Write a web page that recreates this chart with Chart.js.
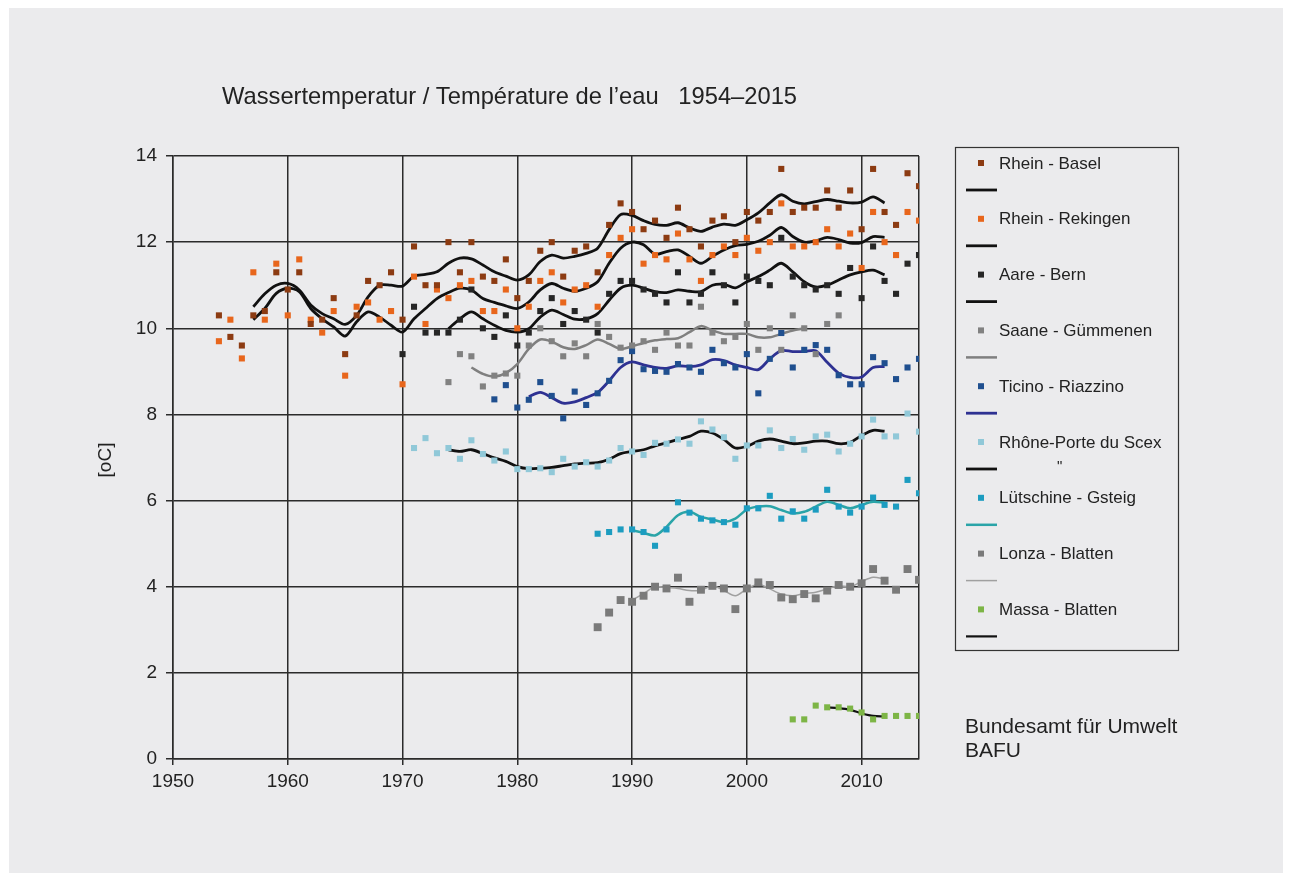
<!DOCTYPE html>
<html>
<head>
<meta charset="utf-8">
<script src="https://cdn.jsdelivr.net/npm/chart.js@4.4.1/dist/chart.umd.min.js"></script>
<style>
  html, body { margin: 0; padding: 0; background: #fff; }
  canvas { display: block; }
</style>
</head>
<body>
<canvas id="tempChart" width="1291" height="881"></canvas>
<script>
// Achsen
const yearTicks = [1950, 1960, 1970, 1980, 1990, 2000, 2010];
const lastYear = 2015;

// Jahresmittel (Punkte), ab Startjahr fortlaufend
const baselStart = 1954;
const baselTemp = [10.3, 9.8, 9.6, 10.3, 10.4, 11.3, 10.9, 11.3, 10.1, 10.2, 10.7, 9.4, 10.3, 11.1, 11.0, 11.3,
  10.2, 11.9, 11.0, 11.0, 12.0, 11.3, 12.0, 11.2, 11.1, 11.6, 10.7, 11.1, 11.8, 12.0, 11.2, 11.8, 11.9, 11.3,
  12.4, 12.9, 12.7, 12.3, 12.5, 12.1, 12.8, 12.3, 11.9, 12.5, 12.6, 12.0, 12.7, 12.5, 12.7, 13.7, 12.7, 12.8,
  12.8, 13.2, 12.8, 13.2, 12.3, 13.7, 12.7, 12.4, 13.6, 13.3];
const rekingenStart = 1954;
const rekingenTemp = [9.7, 10.2, 9.3, 11.3, 10.2, 11.5, 10.3, 11.6, 10.2, 9.9, 10.4, 8.9, 10.5, 10.6, 10.2, 10.4,
  8.7, 11.2, 10.1, 10.9, 10.7, 11.0, 11.1, 10.4, 10.4, 10.9, 10.0, 10.5, 11.1, 11.3, 10.6, 10.9, 11.0, 10.5,
  11.7, 12.1, 12.3, 11.5, 11.7, 11.6, 12.2, 11.6, 11.1, 11.7, 11.9, 11.7, 12.1, 11.8, 12.0, 12.9, 11.9, 11.9,
  12.0, 12.3, 11.9, 12.2, 11.4, 12.7, 12.0, 11.7, 12.7, 12.5];
const aareStart = 1970;
const aareTemp = [9.4, 10.5, 9.9, 9.9, 9.9, 10.2, 10.9, 10.0, 9.8, 10.3, 9.6, 9.9, 10.4, 10.7, 10.1, 10.4, 10.2,
  9.9, 10.8, 11.1, 11.1, 10.9, 10.8, 10.6, 11.3, 10.6, 10.8, 11.3, 11.0, 10.6, 11.2, 11.1, 11.0, 12.1, 11.2,
  11.0, 10.9, 11.0, 10.8, 11.4, 10.7, 11.9, 11.1, 10.8, 11.5, 11.7];
const saaneStart = 1974;
const saaneTemp = [8.75, 9.4, 9.35, 8.65, 8.9, 8.95, 8.9, 9.6, 10.0, 9.7, 9.35, 9.65, 9.35, 10.1, 9.8, 9.55,
  9.6, 9.7, 9.5, 9.9, 9.6, 9.6, 10.5, 9.9, 9.7, 9.8, 10.1, 9.5, 10.0, 9.5, 10.3, 10.0, 9.4, 10.1, 10.3];
const ticinoStart = 1978;
const ticinoTemp = [8.35, 8.68, 8.16, 8.34, 8.75, 8.43, 7.91, 8.53, 8.22, 8.49, 8.78, 9.26, 9.47, 9.05, 9.01,
  8.99, 9.17, 9.09, 8.99, 9.5, 9.19, 9.09, 9.4, 8.49, 9.29, 9.89, 9.09, 9.5, 9.61, 9.5, 8.91, 8.7, 8.7, 9.33,
  9.19, 8.82, 9.09, 9.29];
const rhoneStart = 1971;
const rhoneTemp = [7.22, 7.45, 7.1, 7.22, 6.97, 7.4, 7.08, 6.93, 7.14, 6.73, 6.73, 6.75, 6.66, 6.97, 6.79, 6.89,
  6.79, 6.93, 7.22, 7.14, 7.06, 7.34, 7.32, 7.42, 7.32, 7.84, 7.65, 7.47, 6.97, 7.28, 7.28, 7.63, 7.22, 7.43,
  7.18, 7.49, 7.53, 7.14, 7.32, 7.49, 7.88, 7.49, 7.49, 8.02, 7.6];
const luetschineStart = 1987;
const luetschineTemp = [5.23, 5.27, 5.33, 5.33, 5.27, 4.95, 5.33, 5.96, 5.72, 5.58, 5.54, 5.5, 5.44, 5.82, 5.82,
  6.11, 5.58, 5.75, 5.58, 5.79, 6.25, 5.86, 5.72, 5.86, 6.07, 5.9, 5.86, 6.48, 6.17];
const lonzaStart = 1987;
const lonzaTemp = [3.06, 3.4, 3.69, 3.65, 3.79, 4.0, 3.96, 4.21, 3.65, 3.93, 4.02, 3.96, 3.48, 3.96, 4.1, 4.04,
  3.75, 3.71, 3.83, 3.73, 3.91, 4.04, 4.0, 4.08, 4.41, 4.14, 3.93, 4.41, 4.16];
const massaStart = 2004;
const massaTemp = [0.92, 0.92, 1.24, 1.2, 1.2, 1.17, 1.08, 0.92, 1.0, 1.0, 1.0, 1.0];

// gleitende Mittel (Linien)
const baselTrendStart = 1957;
const baselTrend = [10.5, 10.8, 11.0, 11.04, 10.89, 10.54, 10.34, 10.22, 10.09, 10.3, 10.73, 11.0, 11.0, 10.98,
  11.21, 11.25, 11.31, 11.51, 11.63, 11.61, 11.47, 11.31, 11.21, 11.12, 11.24, 11.55, 11.7, 11.63, 11.67, 11.74,
  11.86, 12.29, 12.64, 12.62, 12.5, 12.41, 12.39, 12.45, 12.33, 12.25, 12.35, 12.42, 12.39, 12.52, 12.68, 12.91,
  13.1, 12.95, 12.89, 12.94, 12.99, 12.95, 12.91, 12.93, 13.05, 12.91];
const rekingenTrendStart = 1957;
const rekingenTrend = [10.2, 10.46, 10.81, 10.93, 10.85, 10.46, 10.22, 10.03, 9.82, 10.15, 10.38, 10.26, 10.07,
  9.91, 10.22, 10.46, 10.69, 10.83, 10.93, 10.89, 10.69, 10.6, 10.52, 10.46, 10.61, 10.89, 11.04, 10.93, 10.86,
  10.93, 11.08, 11.51, 11.86, 12.0, 11.94, 11.72, 11.78, 11.82, 11.67, 11.51, 11.67, 11.82, 11.92, 11.95, 12.02,
  12.16, 12.34, 12.13, 12.0, 12.03, 12.11, 12.06, 11.98, 11.99, 12.13, 12.11];
const aareTrendStart = 1974;
const aareTrend = [9.99, 10.22, 10.38, 10.22, 10.07, 9.95, 9.91, 9.99, 10.26, 10.42, 10.32, 10.21, 10.22, 10.34,
  10.65, 10.93, 11.0, 10.93, 10.85, 10.83, 10.89, 10.86, 10.85, 11.0, 11.02, 10.94, 11.08, 11.2, 11.35, 11.51,
  11.31, 11.08, 10.96, 11.0, 11.12, 11.24, 11.31, 11.35, 11.24];
const saaneTrendStart = 1976;
const saaneTrend = [9.09, 8.94, 8.88, 8.96, 9.17, 9.52, 9.74, 9.69, 9.56, 9.52, 9.61, 9.74, 9.64, 9.52, 9.58,
  9.66, 9.72, 9.75, 9.77, 9.91, 10.05, 9.95, 9.87, 9.87, 9.87, 9.79, 9.79, 9.87, 9.95, 10.0];
const ticinoTrendStart = 1981;
const ticinoTrend = [8.41, 8.51, 8.39, 8.26, 8.29, 8.39, 8.51, 8.78, 9.09, 9.22, 9.15, 9.09, 9.07, 9.13, 9.11,
  9.15, 9.27, 9.25, 9.15, 9.09, 9.04, 9.29, 9.48, 9.46, 9.46, 9.48, 9.21, 8.96, 8.86, 8.87, 9.09, 9.11];
const rhoneTrendStart = 1974;
const rhoneTrend = [7.18, 7.14, 7.18, 7.09, 6.99, 6.91, 6.79, 6.74, 6.75, 6.77, 6.81, 6.85, 6.87, 6.88, 6.96,
  7.09, 7.14, 7.18, 7.27, 7.34, 7.42, 7.49, 7.61, 7.57, 7.42, 7.22, 7.26, 7.38, 7.43, 7.38, 7.32, 7.34, 7.38,
  7.38, 7.32, 7.35, 7.51, 7.63, 7.61];
const luetschineTrendStart = 1990;
const luetschineTrend = [5.31, 5.25, 5.19, 5.39, 5.66, 5.74, 5.62, 5.56, 5.5, 5.58, 5.79, 5.86, 5.87, 5.78, 5.7,
  5.74, 5.86, 5.97, 5.9, 5.82, 5.9, 5.97, 5.95];
const lonzaTrendStart = 1990;
const lonzaTrend = [3.69, 3.84, 4.0, 3.98, 3.96, 3.91, 3.92, 4.02, 3.91, 3.79, 3.95, 4.06, 3.95, 3.83, 3.79, 3.84,
  3.87, 3.95, 4.02, 4.0, 4.12, 4.22, 4.18];
const massaTrendStart = 2007;
const massaTrend = [1.2, 1.18, 1.14, 1.06, 1.0, 0.99];

const FONT = "'Liberation Sans', Arial, sans-serif";
const GRID = "#2b2b2b";
const BG = "#ebebed";

function toPoints(start, values) {
  return values.map(function (v, i) { return { x: start + i, y: v }; });
}

const series = [
  { label: "Rhein - Basel", color: "#8c3b12", line: "#111111", lw: 2.8, start: baselStart, temp: baselTemp, tStart: baselTrendStart, trend: baselTrend },
  { label: "Rhein - Rekingen", color: "#e8661c", line: "#111111", lw: 2.8, start: rekingenStart, temp: rekingenTemp, tStart: rekingenTrendStart, trend: rekingenTrend },
  { label: "Aare - Bern", color: "#262626", line: "#111111", lw: 2.8, start: aareStart, temp: aareTemp, tStart: aareTrendStart, trend: aareTrend },
  { label: "Saane - Gümmenen", color: "#818181", line: "#7f7f7f", lw: 2.5, start: saaneStart, temp: saaneTemp, tStart: saaneTrendStart, trend: saaneTrend },
  { label: "Ticino - Riazzino", color: "#1f4f8f", line: "#2e3192", lw: 2.8, start: ticinoStart, temp: ticinoTemp, tStart: ticinoTrendStart, trend: ticinoTrend },
  { label: "Rhône-Porte du Scex", color: "#90c8d8", line: "#111111", lw: 2.8, start: rhoneStart, temp: rhoneTemp, tStart: rhoneTrendStart, trend: rhoneTrend },
  { label: "Lütschine - Gsteig", color: "#1c9cc0", line: "#2aa4a8", lw: 2.5, start: luetschineStart, temp: luetschineTemp, tStart: luetschineTrendStart, trend: luetschineTrend },
  { label: "Lonza - Blatten", color: "#7a7a7a", line: "#a0a0a0", lw: 1.5, start: lonzaStart, temp: lonzaTemp, tStart: lonzaTrendStart, trend: lonzaTrend, big: true },
  { label: "Massa - Blatten", color: "#7db546", line: "#111111", lw: 2.2, start: massaStart, temp: massaTemp, tStart: massaTrendStart, trend: massaTrend }
];

const datasets = [];
series.forEach(function (s) {
  datasets.push({
    label: s.label,
    data: toPoints(s.start, s.temp),
    showLine: false,
    pointStyle: "rect",
    pointRadius: s.big ? 5.6 : 4.3,
    pointBorderWidth: 0,
    backgroundColor: s.color,
    borderColor: s.color
  });
});
series.forEach(function (s) {
  datasets.push({
    label: s.label + " (Mittel)",
    data: toPoints(s.tStart, s.trend),
    showLine: true,
    pointRadius: 0,
    borderColor: s.line,
    borderWidth: s.lw,
    tension: 0.3,
    fill: false
  });
});

// Hintergrund, Titel, Legende und Texte
const decorPlugin = {
  id: "decor",
  beforeDraw: function (chart) {
    const ctx = chart.ctx;
    ctx.save();
    ctx.fillStyle = "#ffffff";
    ctx.fillRect(0, 0, chart.width, chart.height);
    ctx.fillStyle = BG;
    ctx.fillRect(9, 8, 1274, 865);
    ctx.restore();
  },
  afterDraw: function (chart) {
    const ctx = chart.ctx;
    ctx.save();
    ctx.fillStyle = "#222";
    ctx.textBaseline = "alphabetic";
    ctx.font = "24px " + FONT;
    ctx.fillText("Wassertemperatur / Température de l\u2019eau   1954\u20132015", 222, 104, 575);

    // y-Achsentitel
    ctx.save();
    ctx.translate(111, 460);
    ctx.rotate(-Math.PI / 2);
    ctx.textAlign = "center";
    ctx.font = "19px " + FONT;
    ctx.fillText("[oC]", 0, 0);
    ctx.restore();

    // Legende
    ctx.strokeStyle = "#333";
    ctx.lineWidth = 1.2;
    ctx.strokeRect(955.5, 147.5, 223, 503);
    ctx.font = "17px " + FONT;
    series.forEach(function (s, i) {
      const ty = 163 + 55.8 * i;
      const ly = ty + 27;
      ctx.fillStyle = s.color;
      ctx.fillRect(978, ty - 3, 6, 6);
      ctx.fillStyle = "#222";
      ctx.textBaseline = "middle";
      ctx.fillText(s.label, 999, ty + 1);
      ctx.strokeStyle = s.line;
      ctx.lineWidth = s.lw;
      ctx.beginPath();
      ctx.moveTo(966, ly);
      ctx.lineTo(997, ly);
      ctx.stroke();
    });
    ctx.fillStyle = "#222";
    ctx.font = "15px " + FONT;
    ctx.fillText("\"", 1057, 163 + 55.8 * 5 + 25);

    ctx.textBaseline = "alphabetic";
    ctx.font = "21px " + FONT;
    ctx.fillText("Bundesamt für Umwelt", 965, 733);
    ctx.fillText("BAFU", 965, 757);
    ctx.restore();
  }
};

const chart = new Chart(document.getElementById("tempChart").getContext("2d"), {
  type: "scatter",
  data: { datasets: datasets },
  options: {
    responsive: false,
    animation: false,
    events: [],
    layout: { padding: { top: 156, right: 372, left: 0, bottom: 0 } },
    plugins: {
      legend: { display: false },
      title: { display: false },
      tooltip: { enabled: false }
    },
    scales: {
      x: {
        type: "linear",
        min: yearTicks[0],
        max: lastYear,
        afterFit: function (scale) { scale.height = 122; },
        afterBuildTicks: function (scale) {
          scale.ticks = yearTicks.concat([lastYear]).map(function (v) { return { value: v }; });
        },
        ticks: {
          autoSkip: false,
          maxRotation: 0,
          padding: 5,
          color: "#222",
          font: { size: 19, family: FONT },
          callback: function (v) { return v === lastYear ? "" : String(v); }
        },
        grid: {
          color: GRID,
          lineWidth: 1.5,
          tickLength: 6,
          tickColor: function (c) { return c.tick && c.tick.value === lastYear ? "rgba(0,0,0,0)" : GRID; }
        },
        border: { color: GRID, width: 1.5 }
      },
      y: {
        min: 0,
        max: 14,
        afterFit: function (scale) { scale.width = 173; },
        ticks: {
          stepSize: 2,
          padding: 9,
          color: "#222",
          font: { size: 19, family: FONT }
        },
        grid: { color: GRID, lineWidth: 1.5, tickLength: 7 },
        border: { color: GRID, width: 1.5 }
      }
    }
  },
  plugins: [decorPlugin]
});
</script>
</body>
</html>
